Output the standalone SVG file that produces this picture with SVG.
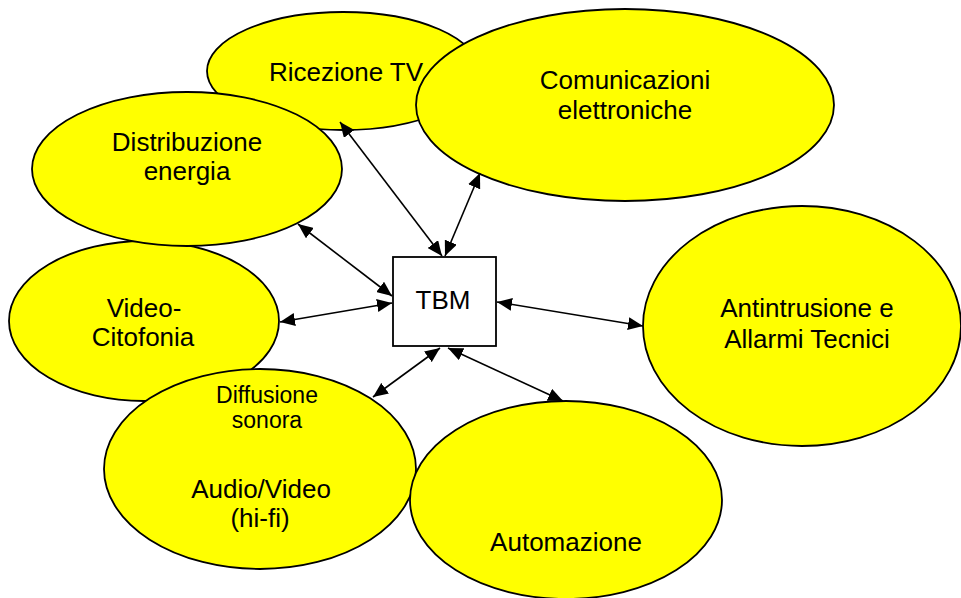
<svg xmlns="http://www.w3.org/2000/svg" width="961" height="598" viewBox="0 0 961 598">
<style>
.node ellipse{fill:#ffff00;stroke:#000;stroke-width:1.8}
.node rect{fill:#fff;stroke:#000;stroke-width:1.8}
text{font-family:"Liberation Sans",Arial,sans-serif;font-size:26px;fill:#000;text-anchor:middle}
text.sm{font-size:23px}
#connectors line{stroke:#000;stroke-width:1.6;marker-start:url(#ah);marker-end:url(#ah)}
</style>
<defs>
<marker id="ah" viewBox="0 0 15 13" refX="15" refY="6.5" markerWidth="15" markerHeight="13" markerUnits="userSpaceOnUse" orient="auto-start-reverse">
<path d="M0,0 L15,6.5 L0,13 z" fill="#000"/>
</marker>
</defs>
<rect width="961" height="598" fill="#fff"/>
<g id="ricezione-tv" class="node">
<ellipse cx="343" cy="71" rx="136" ry="59"/>
<text x="346" y="81">Ricezione TV</text>
</g>
<g id="comunicazioni" class="node">
<ellipse cx="625" cy="105" rx="209" ry="96"/>
<text x="625" y="89">Comunicazioni</text>
<text x="625" y="119">elettroniche</text>
</g>
<g id="video-citofonia" class="node">
<ellipse cx="144" cy="321" rx="135" ry="80"/>
<text x="144" y="317">Video-</text>
<text x="143" y="346">Citofonia</text>
</g>
<g id="distribuzione" class="node">
<ellipse cx="187" cy="169" rx="155" ry="77"/>
<text x="187" y="151">Distribuzione</text>
<text x="187" y="180">energia</text>
</g>
<g id="diffusione" class="node">
<ellipse cx="260" cy="469" rx="156" ry="100"/>
<text class="sm" x="267" y="403">Diffusione</text>
<text class="sm" x="267" y="428">sonora</text>
<text x="261" y="498">Audio/Video</text>
<text x="260" y="527">(hi-fi)</text>
</g>
<g id="automazione" class="node">
<ellipse cx="566" cy="500" rx="156" ry="99"/>
<text x="566" y="551">Automazione</text>
</g>
<g id="antintrusione" class="node">
<ellipse cx="802" cy="326" rx="159" ry="120"/>
<text x="807" y="317">Antintrusione e</text>
<text x="807" y="348">Allarmi Tecnici</text>
</g>
<g id="tbm" class="node">
<rect x="393" y="257" width="103" height="89"/>
<text x="443" y="309">TBM</text>
</g>
<g id="connectors">
<line x1="442" y1="256" x2="340" y2="122"/>
<line x1="445" y1="256" x2="480" y2="173"/>
<line x1="392" y1="296" x2="298" y2="224"/>
<line x1="392" y1="303" x2="280" y2="322"/>
<line x1="440" y1="348" x2="373" y2="397"/>
<line x1="448" y1="348" x2="563" y2="401"/>
<line x1="497" y1="302" x2="643" y2="326"/>
</g>
</svg>
